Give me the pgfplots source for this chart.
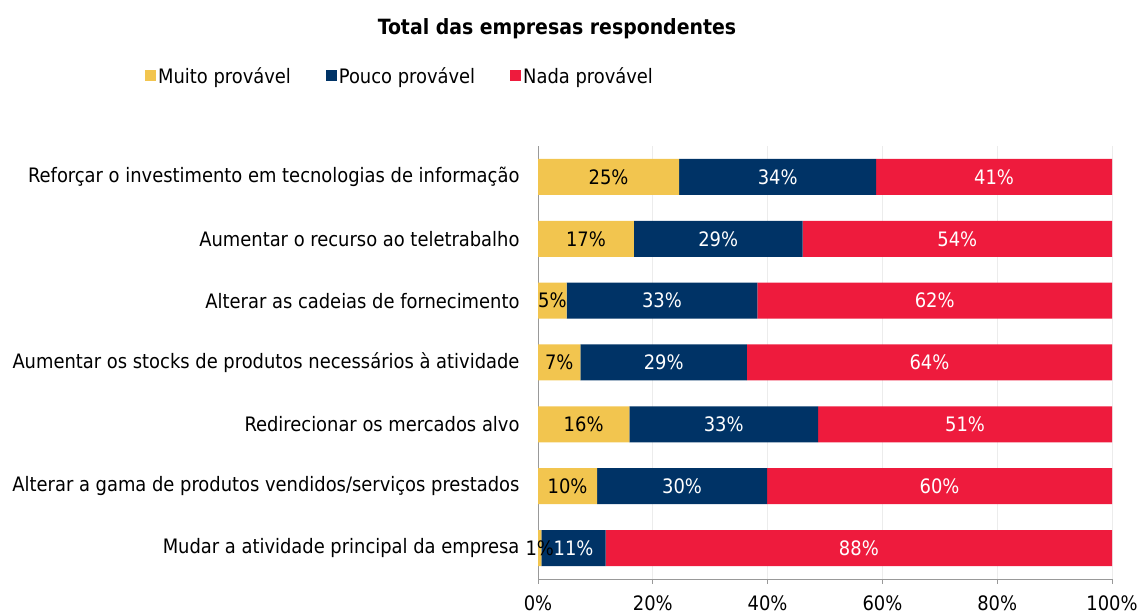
\documentclass[border=0pt]{standalone}
\usepackage{pgfplots}
\pgfplotsset{compat=1.18}
\usepackage{pgfplotstable}
\usepackage{fontspec}
\setmainfont{DejaVu Sans Condensed}
\definecolor{cY}{HTML}{F2C54F}
\definecolor{cB}{HTML}{003366}
\definecolor{cR}{HTML}{EE1B3D}
\pgfplotstableread{
y a b c la lb lc
6 24.6 34.3 41.1 25 34 41
5 16.7 29.4 53.9 17 29 54
4 5.0 33.2 61.8 5 33 62
3 7.4 29.0 63.6 7 29 64
2 15.9 32.9 51.2 16 33 51
1 10.3 29.6 60.1 10 30 60
0 0.6 11.2 88.2 1 11 88
}\data
\newcommand\fs{\fontsize{19.9bp}{22bp}\selectfont}
\pgfplotsset{geom/.style={
  at={(538bp,36bp)}, anchor=south west,
  scale only axis, width=574bp, height=433bp,
  xmin=0, xmax=100, ymin=-0.5, ymax=6.5,
  /pgf/number format/assume math mode=true}}
\begin{document}
\begin{tikzpicture}[x=1bp,y=1bp]
\useasboundingbox (0,0) rectangle (1139,615);
\node[font=\fontsize{21bp}{24bp}\selectfont\bfseries] at (557,586) {Total das empresas respondentes};
\begin{axis}[
  geom,
  xbar stacked, bar width=36bp,
  axis x line*=bottom, axis y line*=left,
  axis line style={draw=gray!80, -},
  xtick={0,20,...,100},
  xticklabel={\pgfmathprintnumber{\tick}\%},
  xmajorgrids, grid style={draw=gray!15, line width=0.8pt},
  ytick={0,...,6},
  yticklabels={Mudar a atividade principal da empresa,
    Alterar a gama de produtos vendidos/serviços prestados,
    Redirecionar os mercados alvo,
    Aumentar os stocks de produtos necessários à atividade,
    Alterar as cadeias de fornecimento,
    Aumentar o recurso ao teletrabalho,
    Reforçar o investimento em tecnologias de informação},
  minor ytick={-0.5,0.5,...,6.5},
  ytick style={draw=none},
  minor tick style={draw=gray!80, line width=0.8pt},
  y tick label style={font=\fs, xshift=-10bp},
  x tick label style={font=\fs, yshift=-8bp},
  major tick length=5bp, minor tick length=6bp,
  tick align=outside,
  xtick style={draw=gray!80, line width=0.8pt},
  legend style={at={(-0.69,1.162)}, anchor=west, draw=none, fill=none,
    font=\fs, legend columns=3,
    /tikz/every even column/.append style={column sep=33bp}},
  legend image code/.code={\fill[#1] (0bp,-5.5bp) rectangle (11bp,5.5bp);},
  clip=false,
]
\addplot[fill=cY, draw=none] table[x=a, y=y] {\data};
\addplot[fill=cB, draw=none] table[x=b, y=y] {\data};
\addplot[fill=cR, draw=none] table[x=c, y=y] {\data};
\legend{Muito provável, Pouco provável, Nada provável}
\end{axis}
\begin{axis}[geom, hide axis, clip=false,
  nodes near coords={\pgfmathprintnumber{\pgfplotspointmeta}\%},
  point meta=explicit,
  every node near coord/.append style={anchor=center, font=\fs}]
\addplot[only marks, mark=none, nodes near coords style={text=black}]
  table[x expr={\thisrow{a}/2}, y=y, meta=la] {\data};
\addplot[only marks, mark=none, nodes near coords style={text=white}]
  table[x expr={\thisrow{a}+\thisrow{b}/2}, y=y, meta=lb] {\data};
\addplot[only marks, mark=none, nodes near coords style={text=white}]
  table[x expr={\thisrow{a}+\thisrow{b}+\thisrow{c}/2}, y=y, meta=lc] {\data};
\end{axis}
\end{tikzpicture}
\end{document}
